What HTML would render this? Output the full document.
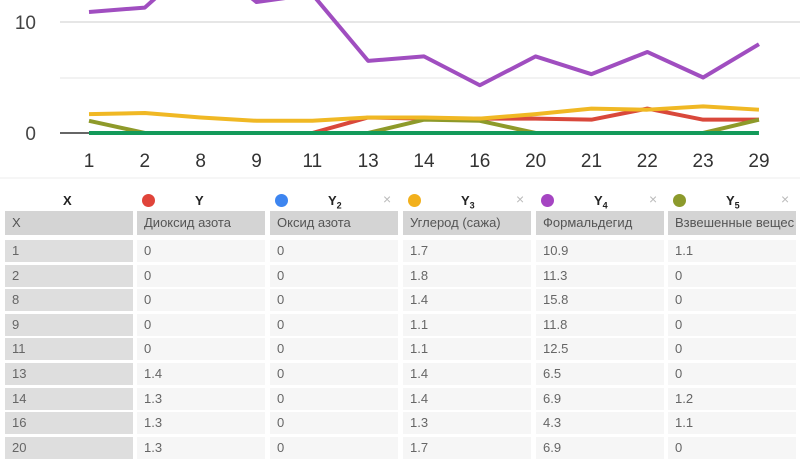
<!DOCTYPE html>
<html><head><meta charset="utf-8"><style>
body{margin:0;width:800px;height:450px;overflow:hidden;background:#fff;font-family:"Liberation Sans","DejaVu Sans",sans-serif;position:relative}
.c{position:absolute;height:22px;line-height:22px;font-size:13px;color:#666;padding-left:7px;box-sizing:border-box;overflow:hidden;white-space:nowrap}
.h{position:absolute;font-weight:bold;font-size:13px;color:#222;top:193px}
.dot{position:absolute;width:13px;height:13px;border-radius:50%;top:194px}
.x{position:absolute;top:191px;color:#bbb;font-size:14px}
</style></head><body>
<svg width="800" height="180" style="position:absolute;left:0;top:0">
<line x1="60" y1="22" x2="800" y2="22" stroke="#ccc" stroke-width="1"/>
<line x1="60" y1="78" x2="800" y2="78" stroke="#e6e6e6" stroke-width="1"/>
<line x1="60" y1="133" x2="89" y2="133" stroke="#333" stroke-width="1.5"/>
<g font-size="19" fill="#444" text-anchor="end"><text x="36" y="29">10</text><text x="36" y="140">0</text></g>
<g font-size="19" fill="#333" text-anchor="middle" id="xl"></g>
<g fill="none" stroke-width="4" stroke-linejoin="round" id="ln"></g>
<line x1="0" y1="178" x2="800" y2="178" stroke="#eee"/>
</svg>
<div class="h" style="left:63px">X</div>
<div id="hd"></div>
<div id="tb"></div>
<script>
var xs=[1,2,8,9,11,13,14,16,20,21,22,23,29];
var S={r:[0,0,0,0,0,1.4,1.3,1.3,1.3,1.2,2.2,1.2,1.2],y:[1.7,1.8,1.4,1.1,1.1,1.4,1.4,1.3,1.7,2.2,2.1,2.4,2.1],p:[10.9,11.3,15.8,11.8,12.5,6.5,6.9,4.3,6.9,5.3,7.3,5.0,8.0],o:[1.1,0,0,0,0,0,1.2,1.1,0,0,0,0,1.2],g:[0,0,0,0,0,0,0,0,0,0,0,0,0]};
var col={r:"#d9483b",y:"#f0b824",p:"#a04ec0",o:"#8e9a2a",g:"#139a5a"};
var X=i=>89+i*55.83,Y=v=>133-v*11.1;
var xl='';xs.forEach((x,i)=>xl+='<text x="'+X(i)+'" y="167">'+x+'</text>');
document.getElementById('xl').innerHTML=xl;
var ln='';['r','o','y','p','g'].forEach(k=>{ln+='<polyline stroke="'+col[k]+'" points="'+S[k].map((v,i)=>X(i)+','+Y(v)).join(' ')+'"/>'});
document.getElementById('ln').innerHTML=ln;
var cl=[5,137,270,403,536,668],cw=128;
var hd='',names=[['#e0443a','Y',''],['#3d85f0','Y','2'],['#f2b01c','Y','3'],['#a545c2','Y','4'],['#8c9a2c','Y','5']];
names.forEach((n,i)=>{var l=cl[i+1];hd+='<div class="dot" style="left:'+(l+5)+'px;background:'+n[0]+'"></div><div class="h" style="left:'+(l+58)+'px">'+n[1]+'<sub style="font-size:9px">'+n[2]+'</sub></div>'+(i>0?'<div class="x" style="left:'+(l+113)+'px">×</div>':'')});
document.getElementById('hd').innerHTML=hd;
var hdr=['X','Диоксид азота','Оксид азота','Углерод (сажа)','Формальдегид','Взвешенные вещес'];
var tb='';hdr.forEach((h,i)=>tb+='<div class="c" style="left:'+cl[i]+'px;top:211px;width:'+cw+'px;background:#d4d4d4;color:#555;height:24px;line-height:24px">'+h+'</div>');
var rows=9;for(var r=0;r<rows;r++){var t=240+r*24.6;var vals=[xs[r],S.r[r],0,S.y[r],S.p[r],S.o[r]];
vals.forEach((v,i)=>tb+='<div class="c" style="left:'+cl[i]+'px;top:'+t+'px;width:'+cw+'px;background:'+(i==0?'#dedede':'#f6f6f6')+'">'+v+'</div>')}
document.getElementById('tb').innerHTML=tb;
</script>
</body></html>
